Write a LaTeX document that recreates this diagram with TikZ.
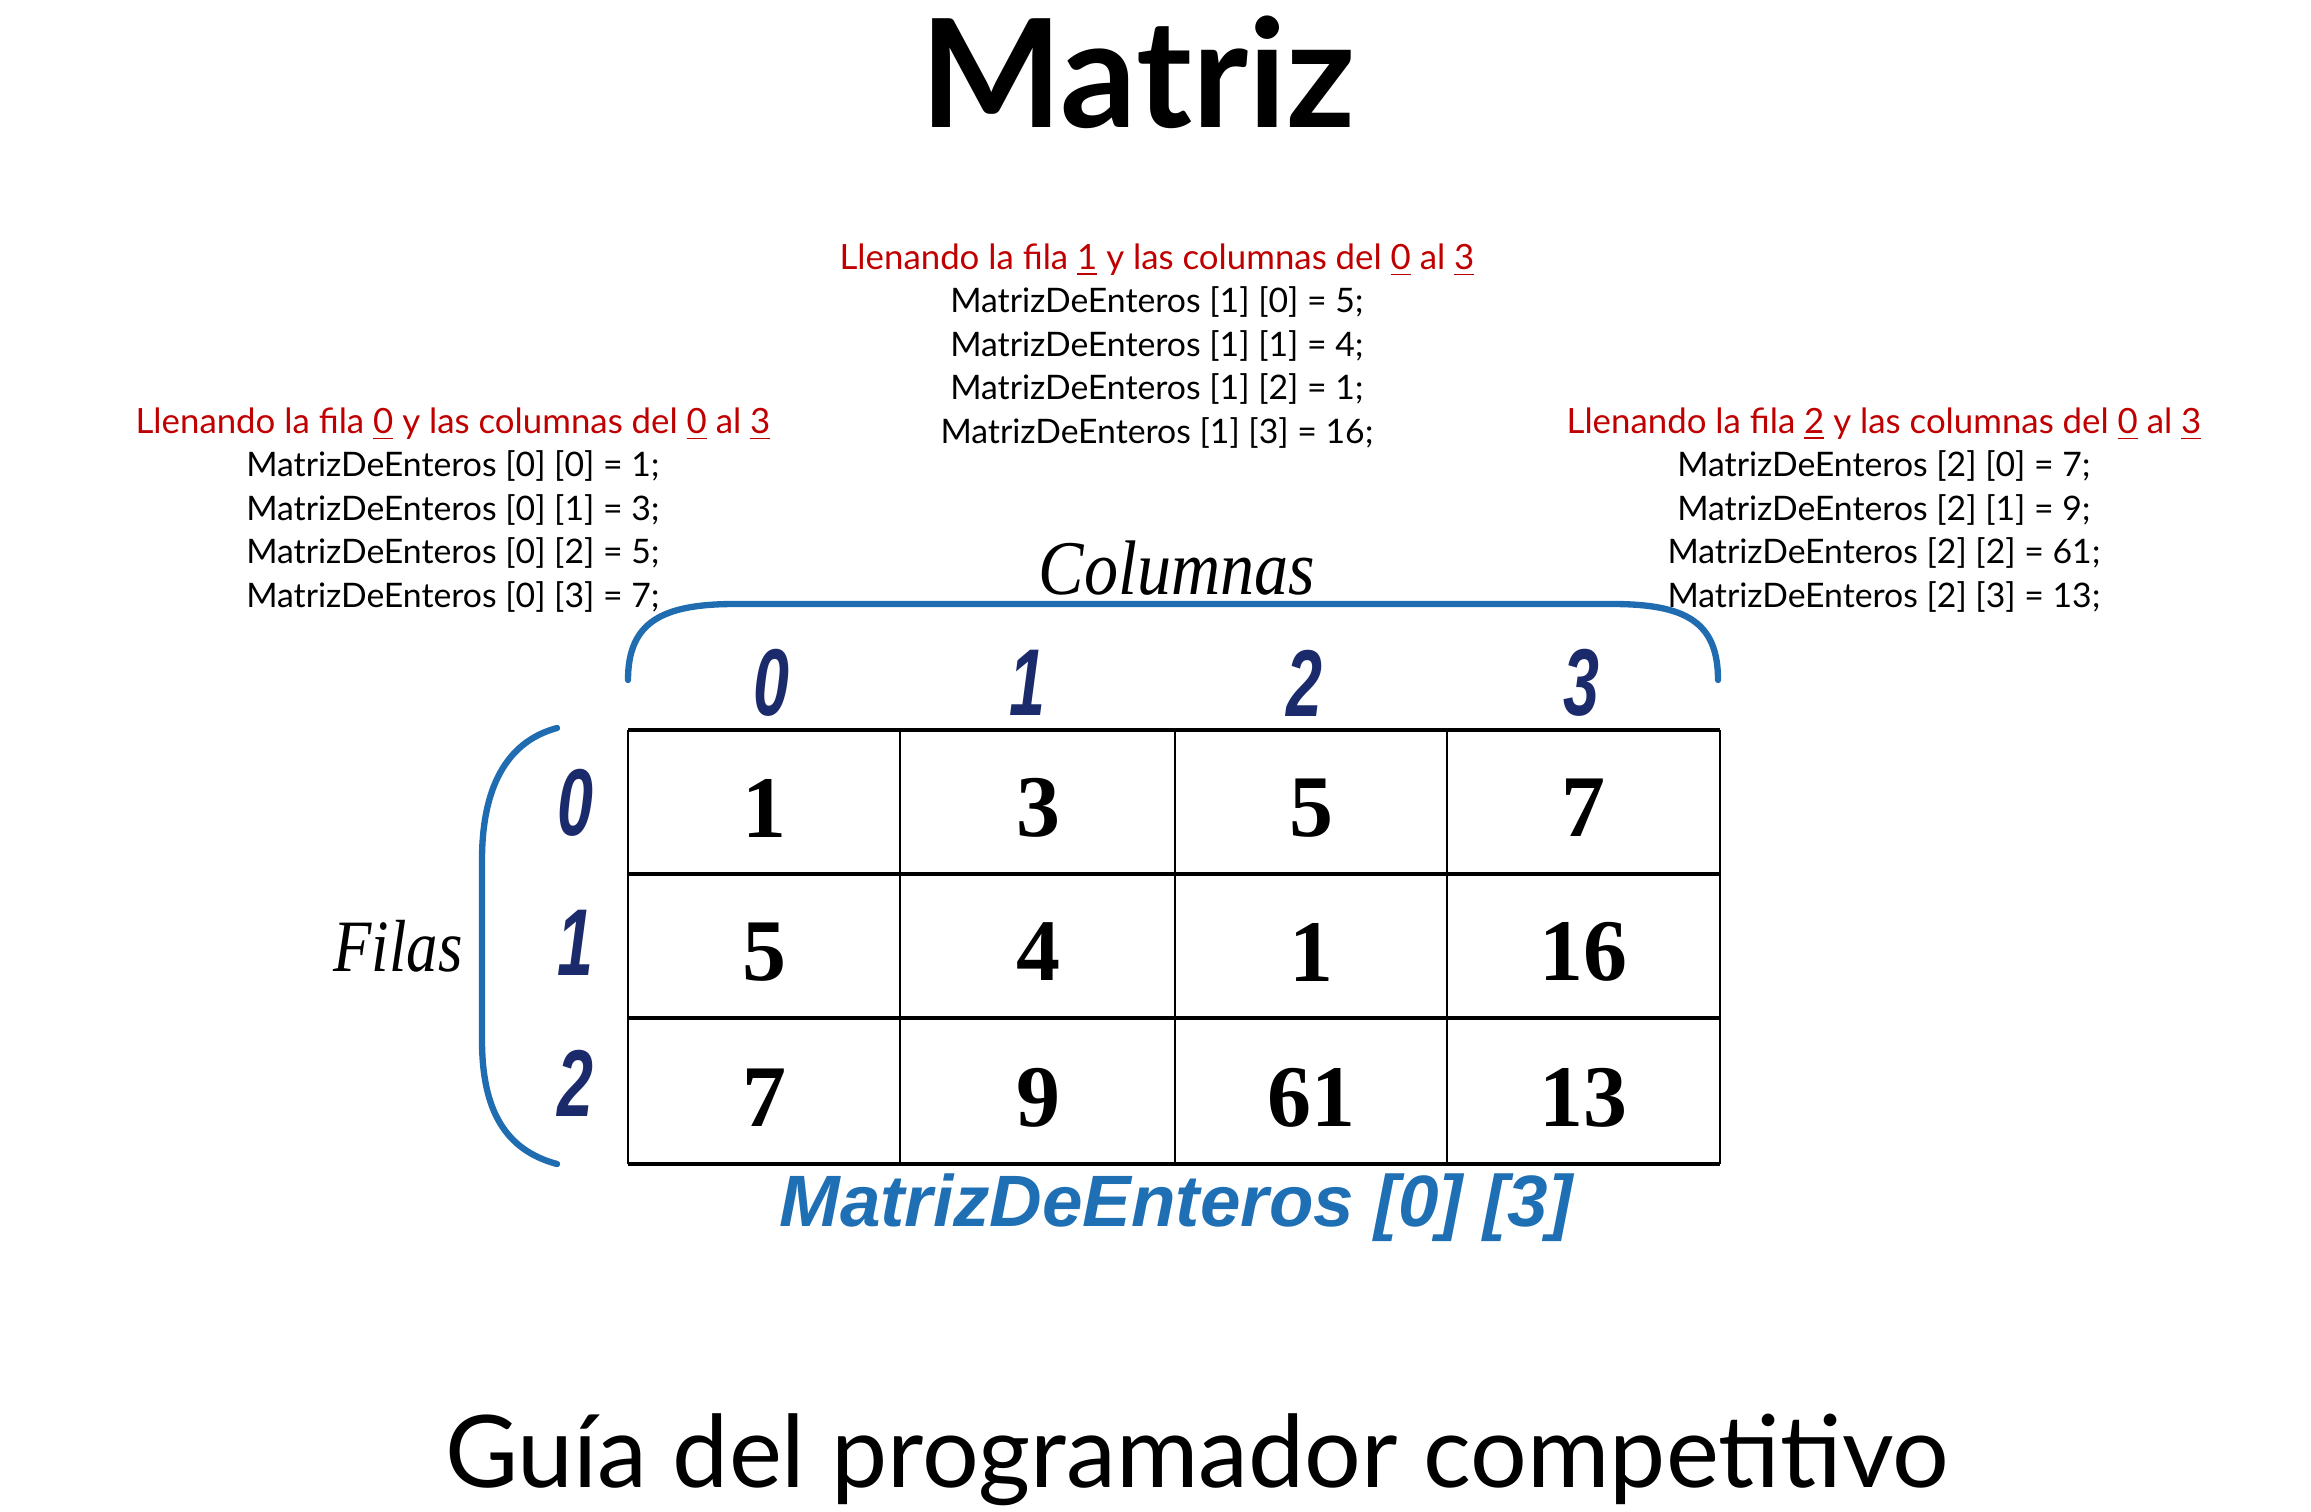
\documentclass[tikz,border=0pt]{standalone}
\usepackage{fontspec}
\usepackage{graphicx}
\setmainfont{Lato}
\newfontfamily\numfont{Liberation Serif}
\newfontfamily\hdrfont{Liberation Sans}
\definecolor{headred}{HTML}{C00000}
\definecolor{navy}{HTML}{1B2A6B}
\definecolor{braceblue}{HTML}{1F6DB0}
\definecolor{labelblue}{HTML}{1E6FB4}
\tikzset{
  block/.style={align=center, font=\fontsize{9.6pt}{12.4pt}\selectfont, inner sep=0pt},
  cellnum/.style={font=\numfont\bfseries\fontsize{25pt}{25pt}\selectfont, inner sep=0pt},
  idx/.style={text=navy, font=\hdrfont\bfseries\itshape\fontsize{27pt}{27pt}\selectfont, inner sep=0pt},
  axislabel/.style={font=\numfont\itshape, inner sep=0pt},
  brace/.style={draw=braceblue, line width=1.8pt, line cap=round},
  hline/.style={line width=1.1pt},
  vline/.style={line width=0.5pt}
}
\newcommand{\hd}[1]{\textcolor{headred}{\fontsize{9.9pt}{12.4pt}\selectfont #1}}
\newcommand{\ul}[1]{\underline{#1}}
\begin{document}
\begin{tikzpicture}[x=0.01cm,y=-0.01cm]
\useasboundingbox (0,0) rectangle (2311,1512);
% title and subtitle
\node[font=\bfseries\fontsize{42.8pt}{42.8pt}\selectfont, inner sep=0pt] (title) at (1138,72) {Matriz};
\node[font=\fontsize{28.5pt}{28.5pt}\selectfont, inner sep=0pt] (subtitle) at (1197,1460) {Guía del programador competitivo};
% text blocks
\node[block] (left) at (453,510) {\hd{Llenando la fila \ul{0} y las columnas del \ul{0} al \ul{3}}\\
MatrizDeEnteros [0] [0] = 1;\\ MatrizDeEnteros [0] [1] = 3;\\ MatrizDeEnteros [0] [2] = 5;\\ MatrizDeEnteros [0] [3] = 7;};
\node[block] (mid) at (1157,346) {\hd{Llenando la fila \ul{1} y las columnas del \ul{0} al \ul{3}}\\
MatrizDeEnteros [1] [0] = 5;\\ MatrizDeEnteros [1] [1] = 4;\\ MatrizDeEnteros [1] [2] = 1;\\ MatrizDeEnteros [1] [3] = 16;};
\node[block] (right) at (1884,510) {\hd{Llenando la fila \ul{2} y las columnas del \ul{0} al \ul{3}}\\
MatrizDeEnteros [2] [0] = 7;\\ MatrizDeEnteros [2] [1] = 9;\\ MatrizDeEnteros [2] [2] = 61;\\ MatrizDeEnteros [2] [3] = 13;};
% axis labels
\node[axislabel, font=\numfont\itshape\fontsize{22pt}{22pt}\selectfont] (columnas) at (1177,568) {\scalebox{0.88}[1]{Columnas}};
\node[axislabel, font=\numfont\itshape\fontsize{21pt}{21pt}\selectfont] (filas) at (398,946) {\scalebox{0.85}[1]{Filas}};
% braces
\coordinate (tb1) at (628,680);
\coordinate (tb2) at (1718,680);
\coordinate (lb1) at (557,728);
\coordinate (lb2) at (557,1164);
\draw[brace] (tb1) .. controls (628,622) and (662,604) .. (735,604) -- (1612,604) .. controls (1686,604) and (1718,622) .. (tb2);
\draw[brace] (lb1) .. controls (505,742) and (482,790) .. (482,860) -- (482,1040) .. controls (482,1110) and (505,1150) .. (lb2);
% column indices
\foreach \i/\x in {0/771,1/1027,2/1304,3/1581}
  \node[idx] (ch\i) at (\x,683) {\scalebox{0.68}[1]{\i}};
% row indices
\foreach \i/\y in {0/803,1/943,2/1083}
  \node[idx] (rh\i) at (575,\y) {\scalebox{0.68}[1]{\i}};
% grid
\foreach \y in {730,874,1018,1164} \draw[hline] (628,\y) -- (1720,\y);
\draw[line width=0.8pt] (628,730) -- (628,1164);
\draw[line width=0.8pt] (1720,730) -- (1720,1164);
\foreach \x in {900,1175,1447} \draw[vline] (\x,730) -- (\x,1164);
% numbers
\node[cellnum] (c00) at (764,808) {1};
\node[cellnum] (c01) at (1038,808) {3};
\node[cellnum] (c02) at (1311,808) {5};
\node[cellnum] (c03) at (1583,808) {7};
\node[cellnum] (c10) at (764,952) {5};
\node[cellnum] (c11) at (1038,952) {4};
\node[cellnum] (c12) at (1311,952) {1};
\node[cellnum] (c13) at (1583,952) {16};
\node[cellnum] (c20) at (764,1098) {7};
\node[cellnum] (c21) at (1038,1098) {9};
\node[cellnum] (c22) at (1311,1098) {61};
\node[cellnum] (c23) at (1583,1098) {13};
% bottom label
\node[text=labelblue, font=\hdrfont\bfseries\itshape\fontsize{20.7pt}{20.7pt}\selectfont, inner sep=0pt] (label) at (1176,1208) {MatrizDeEnteros [0] [3]};
\end{tikzpicture}
\end{document}
